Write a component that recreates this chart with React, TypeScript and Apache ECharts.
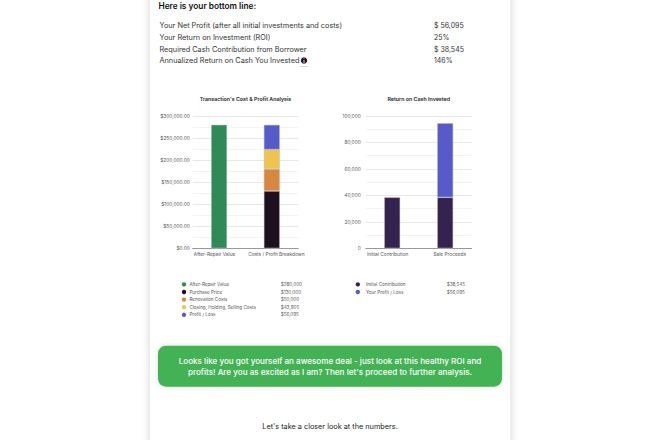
import React, { useEffect, useRef } from "react";
import * as echarts from "echarts";

const FONT = "Inter, 'Noto Sans', sans-serif";

const summaryLabels = [
  "Your Net Profit (after all initial investments and costs)",
  "Your Return on Investment (ROI)",
  "Required Cash Contribution from Borrower",
  "Annualized Return on Cash You Invested",
];
const summaryValues = ["$ 56,095", "25%", "$ 38,545", "146%"];

const costCategories = ["After-Repair Value", "Costs / Profit Breakdown"];
const arvValues = [280000, null];
const purchaseValues = [null, 130000];
const renovationValues = [null, 50000];
const closingValues = [null, 43905];
const profitValues = [null, 56095];

const cashCategories = ["Initial Contribution", "Sale Proceeds"];
const contributionValues = [38545, 38545];
const yourProfitValues = [null, 56095];

const legendLeft = [
  ["After-Repair Value", "$280,000", "#2e8b57"],
  ["Purchase Price", "$130,000", "#1f1020"],
  ["Renovation Costs", "$50,000", "#d8873f"],
  ["Closing, Holding, Selling Costs", "$43,905", "#ecc44f"],
  ["Profit / Loss", "$56,095", "#565bc9"],
];
const legendRight = [
  ["Initial Contribution", "$38,545", "#35224f"],
  ["Your Profit / Loss", "$56,095", "#565bc9"],
];

const calloutLines = [
  "Looks like you got yourself an awesome deal - just look at this healthy ROI and",
  "profits! Are you as excited as I am? Then let's proceed to further analysis.",
];

function text(x: number, y: number, t: string, fontSize: number, fill: string, extra: any = {}) {
  return {
    type: "text",
    x,
    y,
    silent: true,
    style: { text: t, fontSize, fill, fontFamily: FONT, textVerticalAlign: "middle", ...extra },
  };
}

function legendRows(rows: string[][], dotX: number, labelX: number, valueX: number) {
  const out: any[] = [];
  rows.forEach((r, i) => {
    const y = 284.4 + i * 7.6;
    out.push({ type: "circle", silent: true, shape: { cx: dotX, cy: y, r: 2.2 }, style: { fill: r[2] } });
    out.push(text(labelX, y, r[0], 4.6, "#555555"));
    out.push(text(valueX, y, r[1], 4.6, "#555555"));
  });
  return out;
}

function bar(name: string, data: any[], color: string, axisIndex: number) {
  return {
    name,
    type: "bar",
    stack: "stack" + axisIndex,
    data,
    xAxisIndex: axisIndex,
    yAxisIndex: axisIndex,
    barWidth: 16,
    itemStyle: { color, borderColor: "rgba(190,190,190,0.8)", borderWidth: 0.6 },
  };
}

function yAxis(gridIndex: number, max: number, interval: number, margin: number, formatter: (v: number) => string) {
  return {
    type: "value",
    gridIndex,
    min: 0,
    max,
    interval,
    axisLine: { show: false },
    axisTick: { show: false },
    axisLabel: { fontSize: 4.8, color: "#555555", fontFamily: FONT, margin, formatter },
    splitLine: { lineStyle: { color: "#e8e8e8", width: 1 } },
    minorTick: { show: false, splitNumber: 2 },
    minorSplitLine: { show: true, lineStyle: { color: "#f3f3f3", width: 1 } },
  };
}

function xAxis(gridIndex: number, data: string[]) {
  const labelStyle = { fontSize: 4.8, color: "#555555", fontFamily: FONT };
  return {
    type: "category",
    gridIndex,
    data,
    axisLine: { lineStyle: { color: "#999999", width: 1 } },
    axisTick: { show: false },
    axisLabel: {
      margin: 3,
      interval: 0,
      ...labelStyle,
      formatter: (v: string, i: number) => `{${i === 0 ? "a" : "b"}|${v}}`,
      rich: {
        a: { ...labelStyle, padding: [0, 9, 0, 0] },
        b: { ...labelStyle, padding: [0, 0, 0, 9] },
      },
    },
  };
}

export default function App() {
  const ref = useRef<HTMLDivElement>(null);
  useEffect(() => {
    document.body.style.margin = "0";
    const chart = echarts.init(ref.current!, undefined, { renderer: "svg" });
    const summary: any[] = [];
    summaryLabels.forEach((l, i) => {
      const y = 25.7 + i * 11.65;
      summary.push(text(159.5, y, l, 7.3, "#333333"));
      summary.push(text(434, y, summaryValues[i], 7, "#333333"));
    });
    chart.setOption({
      animation: false,
      backgroundColor: "#ffffff",
      grid: [
        { left: 192.7, top: 116, width: 105.5, height: 132.3 },
        { left: 365.7, top: 116, width: 106, height: 132.3 },
      ],
      xAxis: [xAxis(0, costCategories), xAxis(1, cashCategories)],
      yAxis: [
        yAxis(0, 300000, 50000, 3, (v: number) => "$" + v.toLocaleString("en-US", { minimumFractionDigits: 2 })),
        yAxis(1, 100000, 20000, 5, (v: number) => v.toLocaleString("en-US")),
      ],
      series: [
        bar("After-Repair Value", arvValues, "#2e8b57", 0),
        bar("Purchase Price", purchaseValues, "#1f1020", 0),
        bar("Renovation Costs", renovationValues, "#d8873f", 0),
        bar("Closing, Holding, Selling Costs", closingValues, "#ecc44f", 0),
        bar("Profit / Loss", profitValues, "#565bc9", 0),
        bar("Initial Contribution", contributionValues, "#35224f", 1),
        bar("Your Profit / Loss", yourProfitValues, "#565bc9", 1),
      ],
      graphic: [
        {
          type: "rect",
          silent: true,
          z: -10,
          shape: { x: 150, y: -20, width: 360, height: 480 },
          style: { fill: "#ffffff", shadowBlur: 8, shadowColor: "rgba(0,0,0,0.18)" },
        },
        text(158.5, 6, "Here is your bottom line:", 8.3, "#111111", { fontWeight: 600 }),
        ...summary,
        { type: "circle", silent: true, shape: { cx: 304, cy: 60.6, r: 3.2 }, style: { fill: "#1a1a1a" } },
        text(304, 60.6, "i", 5, "#ffffff", { textAlign: "center", fontWeight: 700 }),
        { type: "line", silent: true, shape: { x1: 300.5, y1: 66.5, x2: 307.5, y2: 66.5 }, style: { stroke: "#bbbbbb", lineWidth: 0.6 } },
        text(245.5, 99, "Transaction's Cost & Profit Analysis", 5.3, "#222222", { textAlign: "center", fontWeight: 600 }),
        text(418.7, 99, "Return on Cash Invested", 5.3, "#222222", { textAlign: "center", fontWeight: 600 }),
        ...legendRows(legendLeft, 184, 189.4, 280.7),
        ...legendRows(legendRight, 357.8, 366, 446.7),
        {
          type: "rect",
          silent: true,
          shape: { x: 158, y: 345.7, width: 344, height: 41, r: 8 },
          style: { fill: "#43b254", shadowBlur: 5, shadowColor: "rgba(0,0,0,0.15)" },
        },
        text(330, 360.5, calloutLines[0], 8.1, "#ffffff", { textAlign: "center", fontWeight: 500 }),
        text(330, 372.2, calloutLines[1], 8.1, "#ffffff", { textAlign: "center", fontWeight: 500 }),
        text(330, 426, "Let's take a closer look at the numbers.", 7.3, "#222222", { textAlign: "center" }),
      ],
    });
    return () => chart.dispose();
  }, []);
  return <div ref={ref} style={{ width: 660, height: 440 }} />;
}
